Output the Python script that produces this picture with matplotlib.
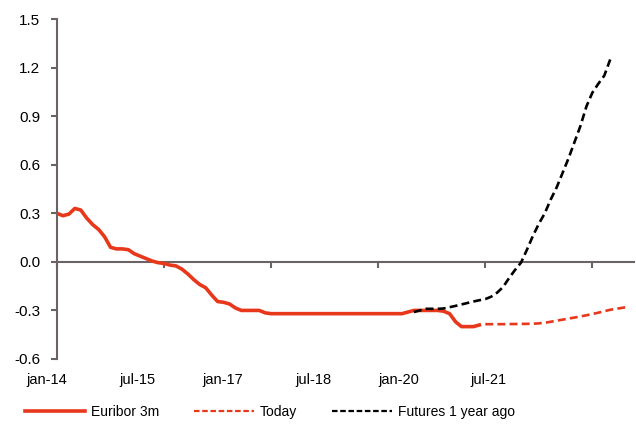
import matplotlib
matplotlib.use("Agg")
import matplotlib.pyplot as plt
from matplotlib.lines import Line2D

plt.rcParams["font.family"] = ["Liberation Sans", "DejaVu Sans"]
plt.rcParams["axes.unicode_minus"] = False

# Months counted from January 2014
euribor_months = list(range(0, 72))
euribor_3m = [0.30, 0.285, 0.295, 0.33, 0.32, 0.27, 0.23, 0.20, 0.155, 0.09,
              0.08, 0.08, 0.075, 0.05, 0.035, 0.02, 0.005, -0.005, -0.01, -0.02,
              -0.025, -0.045, -0.075, -0.11, -0.14, -0.16, -0.205, -0.245, -0.25, -0.26,
              -0.285, -0.30, -0.30, -0.30, -0.30, -0.315] + [-0.32] * 23 + \
             [-0.31, -0.30, -0.30, -0.30, -0.30, -0.30, -0.305, -0.32, -0.37, -0.40,
              -0.40, -0.40, -0.39]

today_months = list(range(72, 97))
today_curve = [-0.385, -0.385, -0.385, -0.385, -0.384, -0.384, -0.383, -0.383, -0.382, -0.380,
               -0.376, -0.370, -0.363, -0.357, -0.350, -0.344, -0.337, -0.330, -0.322, -0.314,
               -0.305, -0.296, -0.290, -0.284, -0.278]

futures_months = list(range(60, 94))
futures_year_ago = [-0.31, -0.30, -0.29, -0.29, -0.29, -0.288, -0.28, -0.272, -0.263, -0.254,
                    -0.245, -0.237, -0.23, -0.215, -0.19, -0.155, -0.10, -0.05, -0.005, 0.075,
                    0.16, 0.235, 0.30, 0.385, 0.46, 0.55, 0.64, 0.74, 0.84, 0.96,
                    1.045, 1.10, 1.15, 1.25]

tick_months = [0, 18, 36, 54, 72, 90]
date_labels = ["jan-14", "jul-15", "jan-17", "jul-18", "jan-20", "jul-21"]
date_label_pos = [-1.7, 13.5, 27.8, 43.1, 57.5, 72.6]
y_ticks = [-0.6, -0.3, 0.0, 0.3, 0.6, 0.9, 1.2, 1.5]

red = "#E8381B"
axis_grey = "#6b6363"

fig = plt.figure(figsize=(6.36, 4.25), dpi=100)
ax = fig.add_axes([57 / 636, 1 - 359 / 425, 577 / 636, 340 / 425])

ax.plot(euribor_months, euribor_3m, color=red, lw=2.6, solid_joinstyle="round",
        label="Euribor 3m", zorder=3)
ax.plot(today_months, today_curve, color=red, lw=1.9, dashes=(3, 1.6),
        label="Today", zorder=3)
ax.plot(futures_months, futures_year_ago, color="black", lw=1.9, dashes=(3, 1.6),
        label="Futures 1 year ago", zorder=4)

ax.set_xlim(0, 97)
ax.set_ylim(-0.6, 1.5)
ax.set_yticks(y_ticks)
ax.set_yticklabels([f"{v:.1f}" for v in y_ticks])

for side in ("top", "right"):
    ax.spines[side].set_visible(False)
ax.spines["left"].set_color(axis_grey)
ax.spines["left"].set_linewidth(1.5)
ax.spines["bottom"].set_position(("data", 0))
ax.spines["bottom"].set_color(axis_grey)
ax.spines["bottom"].set_linewidth(1.5)

ax.set_xticks(tick_months)
ax.tick_params(axis="x", direction="out", length=4, width=1.5, color=axis_grey,
               labelbottom=False)
ax.tick_params(axis="y", direction="out", length=4, width=1.5, color=axis_grey,
               pad=8, labelsize=11)

for pos, lab in zip(date_label_pos, date_labels):
    ax.text(pos, -0.062, lab, transform=ax.get_xaxis_transform(),
            ha="center", va="center", fontsize=10.5)

handles = [
    Line2D([], [], color=red, lw=2.6),
    Line2D([], [], color=red, lw=1.6, dashes=(2.5, 1.2)),
    Line2D([], [], color="black", lw=1.6, dashes=(2.5, 1.2)),
]
fig.legend(handles, ["Euribor 3m", "Today", "Futures 1 year ago"],
           loc="center", bbox_to_anchor=(270 / 636, 1 - 412 / 425), ncol=3,
           frameon=False, fontsize=10, handlelength=4.3, handletextpad=0.45,
           columnspacing=2.5)

fig.savefig("out.png", dpi=100)
